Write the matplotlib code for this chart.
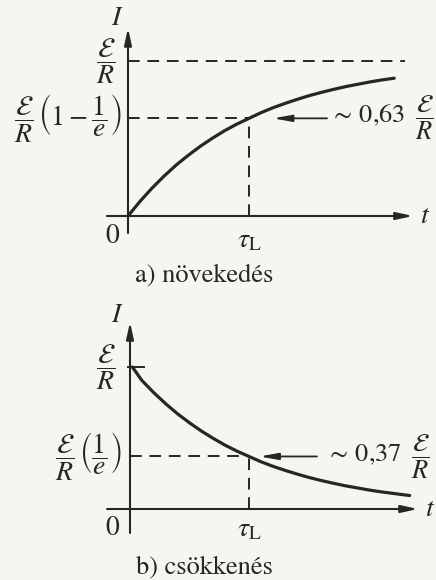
import matplotlib
matplotlib.use("Agg")
import matplotlib.pyplot as plt

plt.rcParams["mathtext.fontset"] = "stix"
plt.rcParams["font.family"] = ["STIXGeneral", "Liberation Serif", "DejaVu Serif"]

# Time in units of the time constant, current in units of E/R
t_rise = [0.0, 0.1, 0.2, 0.3, 0.4, 0.5, 0.6, 0.7, 0.8, 0.9, 1.0, 1.1,
          1.2, 1.3, 1.4, 1.5, 1.6, 1.7, 1.8, 1.9, 2.0, 2.1, 2.2]
i_rise = [0.0, 0.095, 0.181, 0.259, 0.330, 0.393, 0.451, 0.503, 0.551,
          0.593, 0.63, 0.667, 0.699, 0.727, 0.753, 0.777, 0.798, 0.817,
          0.835, 0.850, 0.865, 0.878, 0.889]

t_decay = [0.02, 0.1, 0.2, 0.3, 0.4, 0.5, 0.6, 0.7, 0.8, 0.9, 1.0, 1.1,
           1.2, 1.3, 1.4, 1.5, 1.6, 1.7, 1.8, 1.9, 2.0, 2.1, 2.2, 2.3, 2.35]
i_decay = [1.0, 0.905, 0.819, 0.741, 0.670, 0.607, 0.549, 0.497, 0.449,
           0.407, 0.37, 0.333, 0.301, 0.273, 0.247, 0.223, 0.202, 0.183,
           0.165, 0.150, 0.135, 0.122, 0.111, 0.100, 0.095]

tau = 1.0
i_max = 1.0
level_rise = 0.63
level_decay = 0.37

rise_label = r"${\sim}\,0{,}63\;\;\dfrac{\mathcal{E}}{R}$"
decay_label = r"${\sim}\,0{,}37\;\;\dfrac{\mathcal{E}}{R}$"
caption_a = "a) növekedés"
caption_b = "b) csökkenés"

INK = "#262626"
BG = "#f5f5f2"
FS = 20
DASH = (0, (6, 4))

fig = plt.figure(figsize=(4.36, 5.8), dpi=100, facecolor=BG)


def axis_arrow(ax, start, end):
    ax.annotate("", xy=end, xytext=start,
                arrowprops=dict(arrowstyle="-|>,head_length=1.0,head_width=0.22",
                                lw=1.5, color=INK, shrinkA=0, shrinkB=0,
                                mutation_scale=10))


def pointer(ax, start, end):
    ax.annotate("", xy=end, xytext=start,
                arrowprops=dict(arrowstyle="-|>,head_length=1.1,head_width=0.2",
                                lw=1.3, color=INK, shrinkA=0, shrinkB=0,
                                mutation_scale=10))


# ---- a) rising current ----
ax1 = fig.add_axes([0, 0.5, 1, 0.5])
ax1.set_xlim(-128 / 121, 308 / 121)
ax1.set_ylim(-74 / 155, 216 / 155)
ax1.axis("off")

axis_arrow(ax1, (-0.174, 0), (2.355, 0))
axis_arrow(ax1, (0, -0.11), (0, 1.213))

ax1.plot([0, 2.29], [i_max, i_max], color=INK, lw=1.4, ls=DASH)
ax1.plot([0, tau], [level_rise, level_rise], color=INK, lw=1.4, ls=DASH)
ax1.plot([tau, tau], [0, level_rise], color=INK, lw=1.4, ls=DASH)
ax1.plot(t_rise, i_rise, color=INK, lw=2.3, solid_capstyle="round")
pointer(ax1, (1.645, level_rise), (1.2, level_rise))

ax1.text(-0.09, 1.277, r"$I$", fontsize=FS, ha="center", va="center", color=INK)
ax1.text(-0.1, i_max, r"$\dfrac{\mathcal{E}}{R}$", fontsize=FS,
         ha="right", va="center", color=INK)
ax1.text(-0.05, level_rise,
         r"$\dfrac{\mathcal{E}}{R}\,\left(1-\dfrac{1}{e}\right)$",
         fontsize=FS, ha="right", va="center", color=INK)
ax1.text(1.67, level_rise, rise_label, fontsize=19, ha="left", va="center", color=INK)
ax1.text(-0.124, -0.135, r"$0$", fontsize=FS, ha="center", va="center", color=INK)
ax1.text(tau, -0.16, r"$\tau_{\mathrm{L}}$", fontsize=FS, ha="center", va="center", color=INK)
ax1.text(2.455, 0, r"$t$", fontsize=FS, ha="center", va="center", color=INK)

# ---- b) decaying current ----
ax2 = fig.add_axes([0, 0, 1, 0.5])
ax2.set_xlim(-130 / 119, 306 / 119)
ax2.set_ylim(-71 / 142, 219 / 142)
ax2.axis("off")

axis_arrow(ax2, (-0.193, 0), (2.42, 0))
axis_arrow(ax2, (0, -0.169), (0, 1.317))

ax2.plot([-0.02, 0.12], [i_max, i_max], color=INK, lw=1.4)
ax2.plot([0, tau], [level_decay, level_decay], color=INK, lw=1.4, ls=DASH)
ax2.plot([tau, tau], [0, level_decay], color=INK, lw=1.4, ls=DASH)
ax2.plot(t_decay, i_decay, color=INK, lw=2.3, solid_capstyle="round")
pointer(ax2, (1.571, level_decay), (1.09, level_decay))

ax2.text(-0.109, 1.366, r"$I$", fontsize=FS, ha="center", va="center", color=INK)
ax2.text(-0.12, i_max, r"$\dfrac{\mathcal{E}}{R}$", fontsize=FS,
         ha="right", va="center", color=INK)
ax2.text(-0.07, level_decay,
         r"$\dfrac{\mathcal{E}}{R}\,\left(\dfrac{1}{e}\right)$",
         fontsize=FS, ha="right", va="center", color=INK)
ax2.text(1.65, level_decay, decay_label, fontsize=19, ha="left", va="center", color=INK)
ax2.text(-0.143, -0.134, r"$0$", fontsize=FS, ha="center", va="center", color=INK)
ax2.text(tau, -0.148, r"$\tau_{\mathrm{L}}$", fontsize=FS, ha="center", va="center", color=INK)
ax2.text(2.52, 0, r"$t$", fontsize=FS, ha="center", va="center", color=INK)

# captions
fig.text(204 / 436, 1 - 275 / 580, caption_a, fontsize=19, ha="center",
         va="center", color=INK)
fig.text(204 / 436, 1 - 567 / 580, caption_b, fontsize=19, ha="center",
         va="center", color=INK)

fig.savefig("out.png", dpi=100, facecolor=BG)
